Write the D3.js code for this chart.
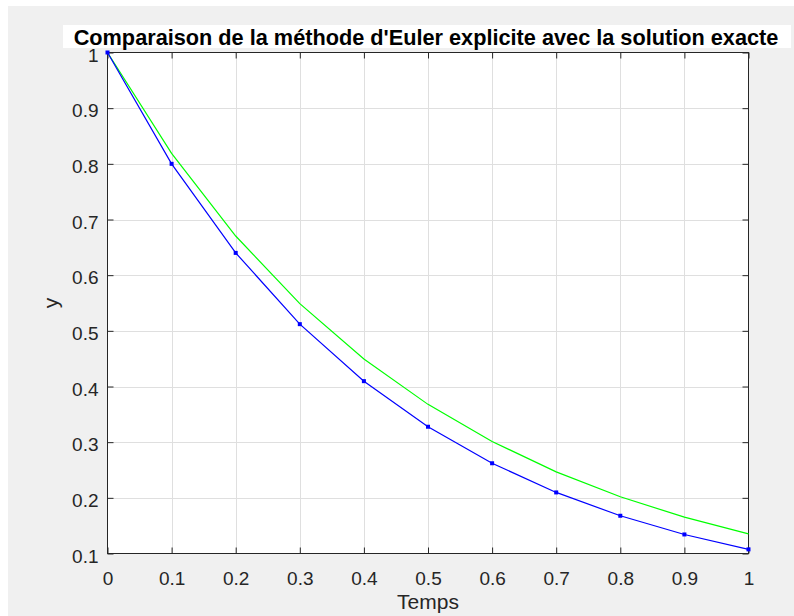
<!DOCTYPE html>
<html>
<head>
<meta charset="utf-8">
<script src="https://cdn.jsdelivr.net/npm/d3@7"></script>
<style>
html,body{margin:0;padding:0;background:#fff;}
svg{display:block;}
text{font-family:"Liberation Sans",Arial,Helvetica,sans-serif;}
</style>
</head>
<body>
<svg id="chart" width="794" height="616"></svg>
<script>
const temps = [0, 0.1, 0.2, 0.3, 0.4, 0.5, 0.6, 0.7, 0.8, 0.9, 1];
const euler = [1, 0.8, 0.64, 0.512, 0.4096, 0.3277, 0.2621, 0.2097, 0.1678, 0.1342, 0.1074];
const exacte = [1, 0.8187, 0.6703, 0.5488, 0.4493, 0.3679, 0.3012, 0.2466, 0.2019, 0.1653, 0.1353];
const xTicks = [0, 0.1, 0.2, 0.3, 0.4, 0.5, 0.6, 0.7, 0.8, 0.9, 1];
const xTickLabels = ["0", "0.1", "0.2", "0.3", "0.4", "0.5", "0.6", "0.7", "0.8", "0.9", "1"];
const yTicks = [0.1, 0.2, 0.3, 0.4, 0.5, 0.6, 0.7, 0.8, 0.9, 1];
const yTickLabels = ["0.1", "0.2", "0.3", "0.4", "0.5", "0.6", "0.7", "0.8", "0.9", "1"];
const titleText = "Comparaison de la méthode d'Euler explicite avec la solution exacte";
const xLabel = "Temps";
const yLabel = "y";

const svg = d3.select("#chart");
const L = 107.5, R = 748.5, T = 52.5, B = 553.5;
const x = d3.scaleLinear().domain([0, 1]).range([L, R]);
const y = d3.scaleLinear().domain([0.1, 1]).range([B, T]);
const axisColor = "#262626";

// figure background
svg.append("rect").attr("x", 0).attr("y", 0).attr("width", 794).attr("height", 616).attr("fill", "#ffffff");
svg.append("rect").attr("x", 8).attr("y", 6).attr("width", 786).attr("height", 610).attr("fill", "#f0f0f0");

// axes background
svg.append("rect").attr("x", L).attr("y", T).attr("width", R - L).attr("height", B - T).attr("fill", "#ffffff");

// grid
const grid = svg.append("g").attr("stroke", "#dfdfdf").attr("stroke-width", 1);
grid.selectAll("line.gx").data(xTicks.slice(1, -1)).join("line")
  .attr("x1", d => Math.round(x(d)) + 0.5).attr("x2", d => Math.round(x(d)) + 0.5)
  .attr("y1", T).attr("y2", B);
grid.selectAll("line.gy").data(yTicks.slice(1, -1)).join("line")
  .attr("y1", d => Math.round(y(d)) + 0.5).attr("y2", d => Math.round(y(d)) + 0.5)
  .attr("x1", L).attr("x2", R);

// axes with inward ticks
const tl = 6;
const xAxisB = d3.axisBottom(x).tickValues(xTicks).tickSizeInner(-tl).tickSizeOuter(0).tickFormat((d, i) => xTickLabels[i]).tickPadding(14);
const gxb = svg.append("g").attr("transform", `translate(0,${B})`).call(xAxisB);
const xAxisT = d3.axisTop(x).tickValues(xTicks).tickSizeInner(-tl).tickSizeOuter(0).tickFormat("");
const gxt = svg.append("g").attr("transform", `translate(0,${T})`).call(xAxisT);
const yAxisL = d3.axisLeft(y).tickValues(yTicks).tickSizeInner(-tl).tickSizeOuter(0).tickFormat((d, i) => yTickLabels[i]).tickPadding(9);
const gyl = svg.append("g").attr("transform", `translate(${L},0)`).call(yAxisL);
const yAxisR = d3.axisRight(y).tickValues(yTicks).tickSizeInner(-tl).tickSizeOuter(0).tickFormat("");
const gyr = svg.append("g").attr("transform", `translate(${R},0)`).call(yAxisR);

[gxb, gxt, gyl, gyr].forEach(g => {
  g.select(".domain").remove();
  g.selectAll(".tick line").attr("stroke", axisColor);
  g.selectAll("text").attr("fill", axisColor).style("font-size", "19px")
    .style("font-family", '"Liberation Sans",Arial,Helvetica,sans-serif');
});
gxb.selectAll(".tick text").attr("dy", null).attr("y", 31);
gyl.selectAll(".tick text").attr("dy", null).attr("y", 8.5);

// box
svg.append("rect").attr("x", L).attr("y", T).attr("width", R - L).attr("height", B - T)
  .attr("fill", "none").attr("stroke", axisColor).attr("stroke-width", 1);

// lines
const line = d3.line().x((d, i) => x(temps[i])).y(d => y(d));
svg.append("path").datum(exacte).attr("d", line).attr("fill", "none")
  .attr("stroke", "#00ff00").attr("stroke-width", 1.2);
svg.append("path").datum(euler).attr("d", line).attr("fill", "none")
  .attr("stroke", "#0000ff").attr("stroke-width", 1.2);
const ms = 4;
svg.selectAll("rect.marker").data(euler).join("rect").attr("class", "marker")
  .attr("x", (d, i) => x(temps[i]) - ms / 2).attr("y", d => y(d) - ms / 2)
  .attr("width", ms).attr("height", ms).attr("fill", "#0000ff");

// labels
svg.append("text").attr("x", (L + R) / 2).attr("y", 609).attr("text-anchor", "middle")
  .attr("fill", axisColor).style("font-size", "21px").text(xLabel);
svg.append("text").attr("transform", `translate(58,${(T + B) / 2}) rotate(-90)`).attr("text-anchor", "middle")
  .attr("fill", axisColor).style("font-size", "21px").text(yLabel);

// title
svg.append("rect").attr("x", 63).attr("y", 25).attr("width", 728).attr("height", 23).attr("fill", "#ffffff");
const title = svg.append("text").attr("x", 426).attr("y", 45).attr("text-anchor", "middle")
  .attr("fill", "#000000").style("font-size", "21px").style("font-weight", "bold").text(titleText);
const w = title.node().getComputedTextLength();
const fs = 21 * 705 / w;
title.style("font-size", Math.min(22, Math.max(18, fs)) + "px");
</script>
</body>
</html>
